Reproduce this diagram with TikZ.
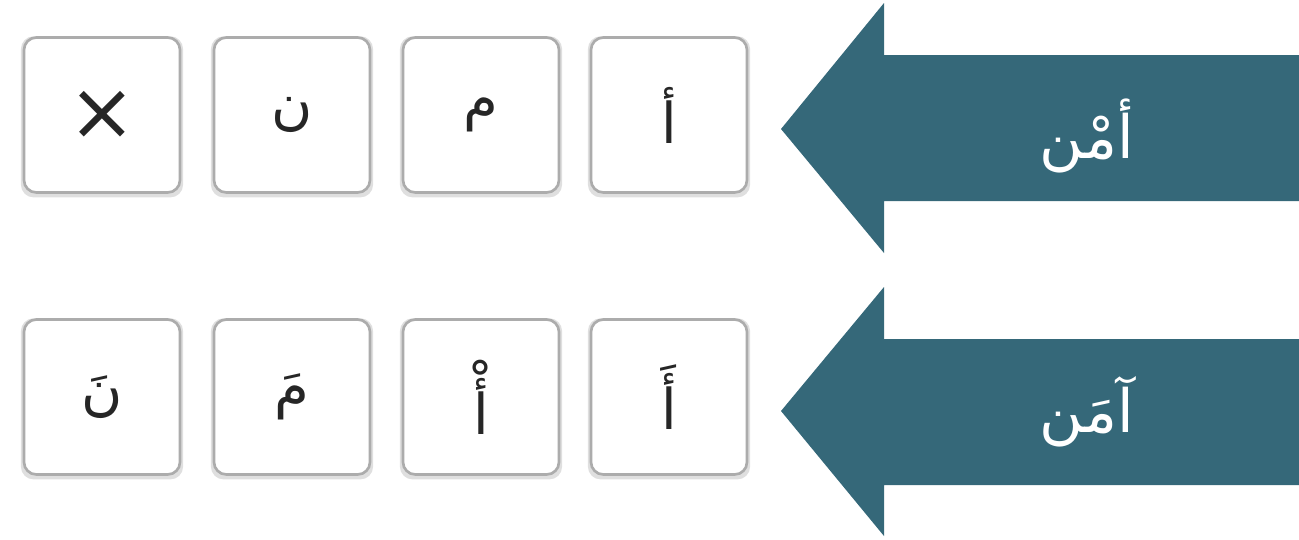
\documentclass[tikz,border=0pt]{standalone}
\usepackage{fontspec}
\usetikzlibrary{shadows}
\newfontfamily\arabicfont[Script=Arabic]{DejaVu Sans}
\TeXXeTstate=1
\definecolor{arrowteal}{RGB}{53,104,121}
\begin{document}
\begin{tikzpicture}[x=0.02cm,y=-0.02cm,
    letterbox/.style={draw=gray!65, line width=1.5pt, rounded corners=7pt, fill=white,
      minimum width=3.12cm, minimum height=3.1cm, inner sep=0pt,
      general shadow={fill=gray!25, shadow scale=1.04, shadow yshift=-1pt}},
    boxtext/.style={font=\arabicfont\fontsize{32}{38}\selectfont, text=black!85},
    arrowtext/.style={font=\arabicfont\fontsize{34}{40}\selectfont, text=white}]
  \useasboundingbox (0,0) rectangle (1299,539);
  % top row
  \foreach \n/\x/\t in {1/669/أ,2/481/م,3/292/ن}
    \node[letterbox,boxtext] (a\n) at (\x,115) {\beginR\t\endR};
  \node[letterbox,boxtext,font=\arabicfont\fontsize{46}{50}\selectfont] (a4) at (102,115) {×};
  % bottom row
  \foreach \n/\x/\t in {1/669/أَ,2/481/أْ,3/292/مَ,4/102/نَ}
    \node[letterbox,boxtext] (b\n) at (\x,397) {\beginR\t\endR};
  % arrows
  \fill[arrowteal] (1299,55) -- (884,55) -- (884,3) -- (781,129) -- (884,253) -- (884,201) -- (1299,201) -- cycle;
  \fill[arrowteal] (1299,339) -- (884,339) -- (884,287) -- (781,411) -- (884,536) -- (884,485) -- (1299,485) -- cycle;
  \node[arrowtext] (w1) at (1087,136) {\beginR أمْن\endR};
  \node[arrowtext] (w2) at (1087,412) {\beginR آمَن\endR};
\end{tikzpicture}
\end{document}
